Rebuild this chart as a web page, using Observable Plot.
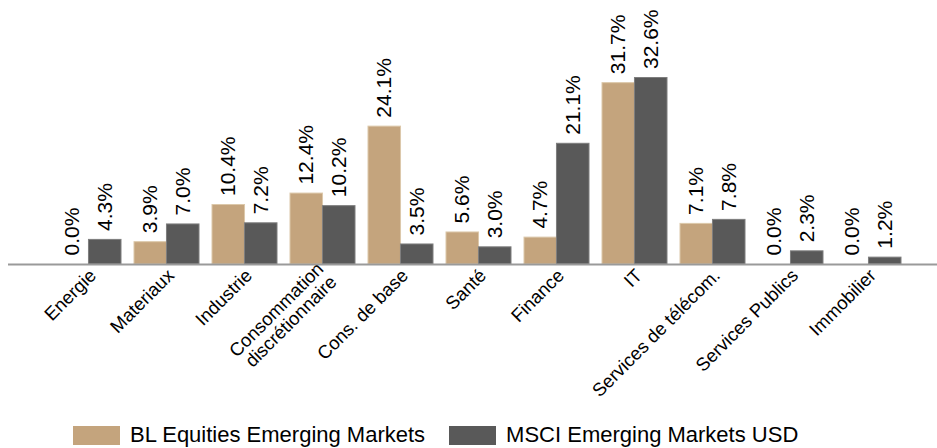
<!DOCTYPE html>
<html>
<head>
<meta charset="utf-8">
<script src="https://cdn.jsdelivr.net/npm/d3@7"></script>
<script src="https://cdn.jsdelivr.net/npm/@observablehq/plot@0.6"></script>
<style>
  html, body { margin: 0; padding: 0; background: #fff; overflow: hidden; }
  body { width: 937px; height: 448px; font-family: "Liberation Sans", Arial, sans-serif; }
  #legend { display: flex; align-items: center; height: 28px; margin-top: 1px; padding-left: 73px;
    font-size: 22px; color: #000; white-space: nowrap; }
  .sw { width: 47px; height: 19px; margin-right: 10px; }
  .item { display: flex; align-items: center; margin-right: 24px; }
</style>
</head>
<body>
<div id="chart"></div>
<div id="legend"></div>
<script>
const categories = ["Energie", "Materiaux", "Industrie", "Consommation\ndiscrétionnaire", "Cons. de base", "Santé", "Finance", "IT", "Services de télécom.", "Services Publics", "Immobilier"];
const seriesNames = ["BL Equities Emerging Markets", "MSCI Emerging Markets USD"];
const blValues = [0.0, 3.9, 10.4, 12.4, 24.1, 5.6, 4.7, 31.7, 7.1, 0.0, 0.0];
const msciValues = [4.3, 7.0, 7.2, 10.2, 3.5, 3.0, 21.1, 32.6, 7.8, 2.3, 1.2];
const colors = ["#C4A47D", "#595959"];
const strokes = ["#DCC8AA", "#7E7E7E"];

const W = 937, H = 420, ML = 8, MR = 0, PI = 0.17, PO = 0.521, AL = 0.57;
const step = (W - ML - MR) / (categories.length - PI + 2 * PO);
const half = step * (1 - PI) / 2;

const blRows = categories.map((c, i) => ({cat: c, v: blValues[i]}));
const msciRows = categories.map((c, i) => ({cat: c, v: msciValues[i]}));
const fmt = d => d.v.toFixed(1) + "%";

const chart = Plot.plot({
  width: W, height: H,
  marginLeft: ML, marginRight: MR, marginTop: 10, marginBottom: 156,
  style: {fontFamily: '"Liberation Sans", Arial, sans-serif', color: "#000", background: "#fff"},
  x: {domain: categories, paddingInner: PI, paddingOuter: PO, align: AL, label: null},
  y: {domain: [0, 44.4], axis: null},
  marks: [
    Plot.barY(blRows, {x: "cat", y: "v", insetRight: half, fill: colors[0], stroke: strokes[0], strokeWidth: 1}),
    Plot.barY(msciRows, {x: "cat", y: "v", insetLeft: half, fill: colors[1], stroke: strokes[1], strokeWidth: 1}),
    Plot.ruleY([0], {stroke: "#9a9a9a", strokeWidth: 2}),
    Plot.text(blRows, {x: "cat", y: "v", text: fmt, rotate: -90, textAnchor: "start", dx: -half / 2, dy: -9, fontSize: 21, fill: "#000"}),
    Plot.text(msciRows, {x: "cat", y: "v", text: fmt, rotate: -90, textAnchor: "start", dx: half / 2, dy: -9, fontSize: 21, fill: "#000"}),
    Plot.axisX({tickRotate: -45, tickSize: 0, tickPadding: 8, fontSize: 18.5, label: null, dx: 4})
  ]
});
document.getElementById("chart").appendChild(chart);

const legend = document.getElementById("legend");
seriesNames.forEach((name, i) => {
  const item = document.createElement("div");
  item.className = "item";
  const sw = document.createElement("div");
  sw.className = "sw";
  sw.style.background = colors[i];
  const t = document.createElement("span");
  t.textContent = name;
  item.appendChild(sw);
  item.appendChild(t);
  legend.appendChild(item);
});
</script>
</body>
</html>
